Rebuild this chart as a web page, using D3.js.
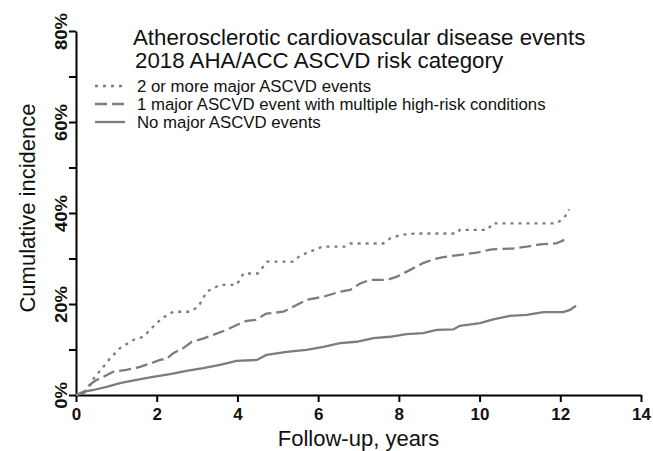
<!DOCTYPE html>
<html>
<head>
<meta charset="utf-8">
<script src="https://cdn.jsdelivr.net/npm/d3@7"></script>
<style>
  body { margin: 0; background: #fff; }
  svg { display: block; font-family: "Liberation Sans", Arial, sans-serif; }
</style>
</head>
<body>
<div id="chart"></div>
<script>
// values (years, cumulative incidence %)
const twoPlusTime = [0, 0.2, 0.39, 0.47, 0.68, 0.84, 1.09, 1.42, 1.67, 1.91, 2.12, 2.41, 2.82, 3.03, 3.24, 3.57, 3.98, 4.15, 4.5, 4.74, 5.38, 5.55, 5.8, 6.1, 6.65, 6.8, 7.61, 7.78, 8.05, 8.4, 9.43, 9.51, 10.2, 10.32, 11.9, 12.05, 12.15, 12.22];
const twoPlusValue = [0, 0.6, 2.9, 4.0, 6.2, 8.0, 10.3, 12.1, 12.8, 15.0, 16.8, 18.3, 18.3, 19.4, 22.7, 24.2, 24.2, 26.7, 26.7, 29.3, 29.3, 30.6, 31.5, 32.6, 32.6, 33.3, 33.3, 34.4, 35.2, 35.5, 35.5, 36.3, 36.3, 37.7, 37.7, 38.6, 39.6, 40.8];

const oneMajorTime = [0, 0.2, 0.39, 0.51, 0.68, 0.92, 1.25, 1.59, 1.83, 2.08, 2.25, 2.41, 2.66, 2.87, 3.15, 3.4, 3.73, 3.98, 4.23, 4.45, 4.72, 5.14, 5.38, 5.71, 6.13, 6.54, 6.79, 7.04, 7.28, 7.7, 7.95, 8.28, 8.6, 8.9, 9.1, 9.43, 9.93, 10.3, 10.83, 11.17, 11.5, 11.9, 12.1];
const oneMajorValue = [0, 0.5, 2.6, 3.3, 4.0, 5.1, 5.5, 6.2, 6.9, 7.7, 8.0, 9.2, 10.3, 11.7, 12.4, 13.2, 14.3, 15.4, 16.3, 16.5, 17.9, 18.3, 19.4, 20.9, 21.6, 22.7, 23.1, 24.5, 25.3, 25.3, 26.0, 27.5, 29.0, 29.9, 30.3, 30.7, 31.3, 32.0, 32.2, 32.6, 33.1, 33.3, 34.1];

const noMajorTime = [0, 0.18, 0.43, 0.76, 1.09, 1.5, 1.91, 2.33, 2.74, 3.15, 3.57, 3.98, 4.48, 4.72, 5.22, 5.71, 6.13, 6.54, 6.95, 7.37, 7.78, 8.19, 8.6, 8.94, 9.35, 9.51, 10.01, 10.34, 10.75, 11.17, 11.58, 12.07, 12.24, 12.39];
const noMajorValue = [0, 0.7, 1.1, 1.8, 2.6, 3.3, 4.0, 4.6, 5.3, 5.9, 6.6, 7.5, 7.7, 8.8, 9.5, 9.9, 10.6, 11.4, 11.7, 12.5, 12.8, 13.4, 13.6, 14.3, 14.4, 15.2, 15.8, 16.6, 17.4, 17.6, 18.2, 18.2, 18.7, 19.6];

const seriesNames = ['2 or more major ASCVD events', '1 major ASCVD event with multiple high-risk conditions', 'No major ASCVD events'];
const titleLines = ['Atherosclerotic cardiovascular disease events', '2018 AHA/ACC ASCVD risk category'];
const xTicks = [0, 2, 4, 6, 8, 10, 12, 14];
const yTicks = [0, 10, 20, 30, 40, 50, 60, 70, 80];

const width = 653, height = 451;
const curveColor = '#7c7c7c';
const dashes = ['3,5', '12,5', null];

const svg = d3.select('#chart').append('svg')
  .attr('width', width)
  .attr('height', height);

const x = d3.scaleLinear().domain([0, 14]).range([76, 641]);
const y = d3.scaleLinear().domain([0, 80]).range([395, 31]);

// axes
const xAxis = svg.append('g')
  .attr('transform', `translate(0,${y(0)})`)
  .call(d3.axisBottom(x).tickValues(xTicks).tickSize(7).tickSizeOuter(0));
xAxis.select('.domain').attr('stroke', '#000').attr('stroke-width', 2);
xAxis.selectAll('.tick line').attr('stroke', '#000').attr('stroke-width', 2);
xAxis.selectAll('.tick text')
  .attr('y', 25).attr('dy', 0)
  .attr('fill', '#111')
  .style('font-size', '17px').style('font-weight', 'bold')
  .style('font-family', '"Liberation Sans", Arial, sans-serif');

const yAxis = svg.append('g')
  .attr('transform', `translate(${x(0)},0)`)
  .call(d3.axisLeft(y).tickValues(yTicks).tickSize(7).tickSizeOuter(0)
    .tickFormat(d => d % 20 === 0 ? d + '%' : ''));
yAxis.select('.domain').attr('stroke', '#000').attr('stroke-width', 2);
yAxis.selectAll('.tick line').attr('stroke', '#000').attr('stroke-width', 2);
// labels in the picture are drawn a bit squeezed across their height
yAxis.selectAll('.tick text')
  .attr('transform', 'rotate(-90) scale(1,0.85)')
  .attr('x', 0).attr('y', -10.6).attr('dy', 0)
  .attr('text-anchor', 'middle')
  .attr('fill', '#111')
  .style('font-size', '18.5px').style('font-weight', 'bold')
  .style('font-family', '"Liberation Sans", Arial, sans-serif');

// axis titles
svg.append('text')
  .attr('x', (x(0) + x(14)) / 2)
  .attr('y', 446)
  .attr('text-anchor', 'middle')
  .style('font-size', '22px')
  .attr('fill', '#111')
  .text('Follow-up, years');

svg.append('text')
  .attr('transform', 'translate(35,208) rotate(-90)')
  .attr('text-anchor', 'middle')
  .style('font-size', '22px')
  .attr('fill', '#111')
  .text('Cumulative incidence');

// curves
const series = [
  d3.zip(twoPlusTime, twoPlusValue),
  d3.zip(oneMajorTime, oneMajorValue),
  d3.zip(noMajorTime, noMajorValue)
];

const line = d3.line()
  .x(d => x(d[0]))
  .y(d => y(d[1]));

svg.selectAll('path.curve')
  .data(series)
  .enter()
  .append('path')
  .attr('class', 'curve')
  .attr('d', line)
  .attr('fill', 'none')
  .attr('stroke', curveColor)
  .attr('stroke-width', 2.3)
  .attr('stroke-dasharray', (d, i) => dashes[i]);

// title
svg.selectAll('text.title')
  .data(titleLines)
  .enter()
  .append('text')
  .attr('class', 'title')
  .attr('x', (d, i) => i === 0 ? 133 : 135)
  .attr('y', (d, i) => 45 + i * 23)
  .style('font-size', '22.3px')
  .attr('fill', '#111')
  .text(d => d);

// legend
const legend = svg.selectAll('g.legend')
  .data(seriesNames)
  .enter()
  .append('g')
  .attr('class', 'legend')
  .attr('transform', (d, i) => `translate(0,${86 + i * 18})`);

legend.append('line')
  .attr('x1', 95).attr('x2', 125)
  .attr('stroke', curveColor)
  .attr('stroke-width', 2.3)
  .attr('stroke-dasharray', (d, i) => dashes[i]);

legend.append('text')
  .attr('x', 137)
  .attr('y', 6)
  .style('font-size', '16.8px')
  .attr('fill', '#111')
  .text(d => d);
</script>
</body>
</html>
